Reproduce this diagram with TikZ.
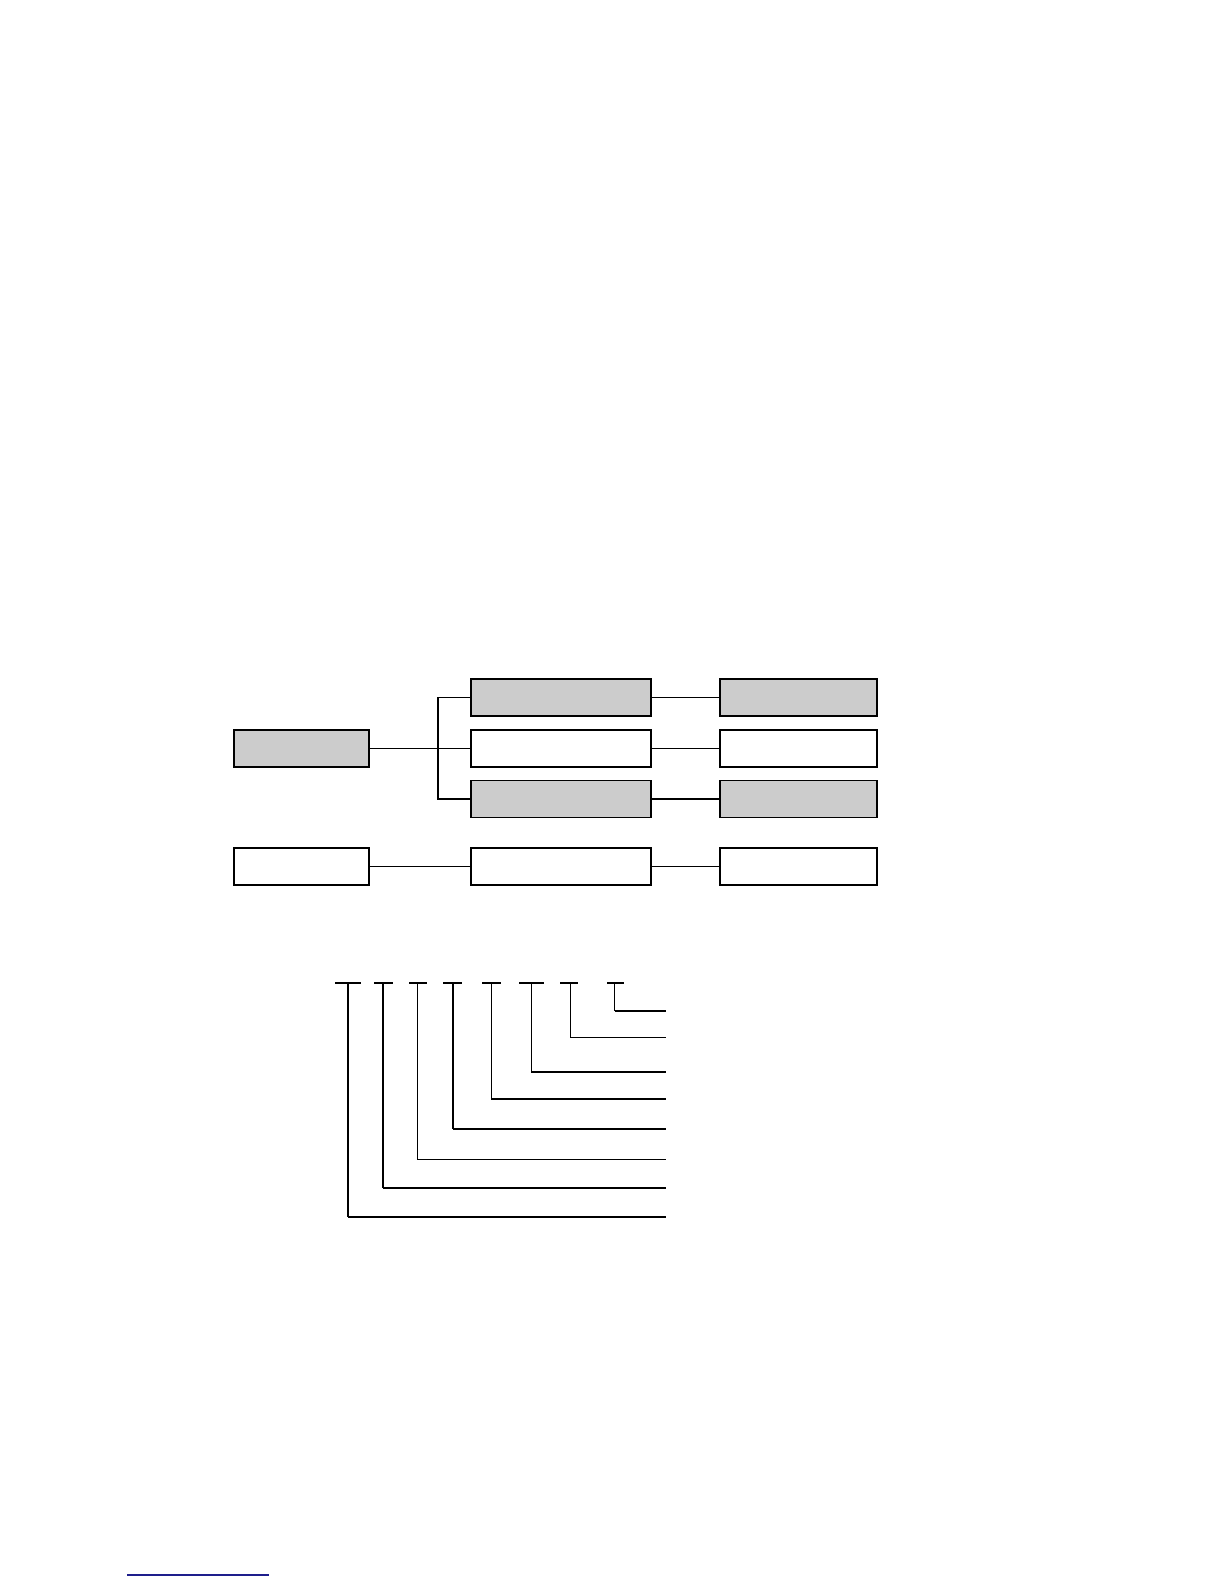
\documentclass[tikz,border=0pt]{standalone}
\begin{document}
\begin{tikzpicture}[x=0.5pt,y=-0.5pt,
  box/.style={draw=black, line width=0.65pt, inner sep=0pt, outer sep=0pt, minimum height=18.5pt},
  gbox/.style={box, fill=boxgray},
  wbox/.style={box, fill=white},
  lcol/.style={minimum width=67.5pt},
  mcol/.style={minimum width=90pt},
  rcol/.style={minimum width=78.5pt},
  conn/.style={draw=black, line width=0.6pt},
  thick line/.style={draw=black, line width=0.8pt},
  thin line/.style={draw=black, line width=0.45pt}]
\definecolor{boxgray}{gray}{0.8}
\definecolor{navyline}{RGB}{30,30,140}
\useasboundingbox (0,0) rectangle (1224,1584);
\fill[white] (0,0) rectangle (1224,1584);

% upper diagram
\node[gbox,lcol] (A) at (301.5,748.5) {};
\node[gbox,mcol] (m1) at (561,697.5) {};
\node[wbox,mcol] (m2) at (561,748.5) {};
\node[gbox,mcol] (m3) at (561,799) {};
\node[gbox,rcol] (r1) at (798.5,697.5) {};
\node[wbox,rcol] (r2) at (798.5,748.5) {};
\node[gbox,rcol] (r3) at (798.5,799) {};
\coordinate (br) at (438,748.5);
\draw[conn] (A.east) -- (m2.west);
\draw[conn] (m1.west) -- (m1.west -| br) -- (m3.west -| br) -- (m3.west);
\draw[conn] (m1.east) -- (r1.west);
\draw[conn] (m2.east) -- (r2.west);
\draw[conn] (m3.east) -- (r3.west);

\node[wbox,lcol] (l4) at (301.5,866.5) {};
\node[wbox,mcol] (m4) at (561,866.5) {};
\node[wbox,rcol] (r4) at (798.5,866.5) {};
\draw[conn] (l4.east) -- (m4.west);
\draw[conn] (m4.east) -- (r4.west);

% lower tree
\coordinate (e) at (666,0);
\foreach \i/\a/\b/\v/\y/\vs/\hs in {
  1/335/361/348/1217/thick line/thick line,
  2/374/393/383/1188/thick line/thick line,
  3/409/427/417/1159/thin line/thin line,
  4/443/462/453/1129/thick line/thick line,
  5/482/501/491/1099/thin line/thick line,
  6/519/544/531/1072/thin line/thick line,
  7/560/578/570/1037/thin line/thin line,
  8/607/624/614.5/1011/thick line/thick line} {
  \coordinate (bl\i) at (\a,983);
  \coordinate (brr\i) at (\b,983);
  \coordinate (v\i) at (\v,983);
  \coordinate (c\i) at (\v,\y);
  \coordinate (t\i) at (666,\y);
  \draw[thick line] (bl\i) -- (brr\i);
  \draw[\vs] (v\i) -- (c\i);
  \draw[\hs] (c\i) -- (t\i);
}

% footnote rule
\coordinate (fa) at (127,1575);
\coordinate (fb) at (269,1575);
\draw[navyline, line width=0.7pt] (fa) -- (fb);
\end{tikzpicture}
\end{document}
